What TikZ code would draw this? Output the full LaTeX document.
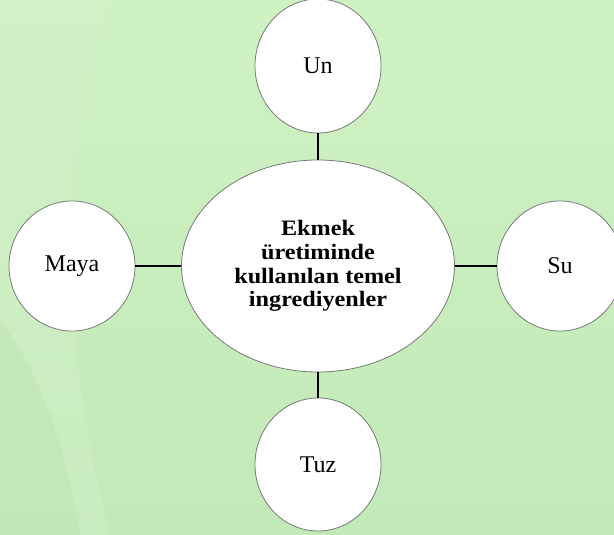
\documentclass[tikz,border=0pt]{standalone}
\usepackage{fontspec}
\setmainfont{Liberation Serif}
\newfontfamily\centerfont[FakeStretch=1.1]{Liberation Serif}
\usetikzlibrary{shapes.geometric}
\definecolor{bgtop}{RGB}{207,242,195}
\definecolor{bgbot}{RGB}{194,233,184}
\definecolor{bgleft}{RGB}{186,226,172}
\definecolor{bglight}{RGB}{214,241,206}
\definecolor{rimgray}{RGB}{120,120,120}
\tikzset{
  bubble/.style={ellipse, draw=rimgray, line width=0.8pt, fill=white, inner sep=0pt},
  small/.style={bubble, minimum width=126pt, minimum height=132pt, font=\fontsize{24}{26}\selectfont},
  big/.style={bubble, minimum width=273pt, minimum height=212pt, align=center,
    font=\centerfont\bfseries\fontsize{22}{23.6}\selectfont},
  link/.style={draw=black, line width=1.8pt}
}
\begin{document}
\begin{tikzpicture}[x=1pt,y=-1pt]
\useasboundingbox (0,0) rectangle (614,535);
\clip (0,0) rectangle (614,535);
% background
\shade[top color=bgtop, bottom color=bgbot] (0,0) rectangle (614,535);
\fill[bglight, opacity=0.35] (0,0) -- (110,0) .. controls (70,150) and (50,300) .. (110,535) -- (0,535) -- cycle;
\fill[bgleft, opacity=0.4] (0,320) .. controls (30,360) and (60,420) .. (80,535) -- (0,535) -- cycle;
% nodes
\node[big] (c) at (318,266) {Ekmek\\üretiminde\\kullanılan temel\\ingrediyenler};
\node[small, minimum height=134pt] (un) at (318,66) {Un};
\node[small, minimum height=130pt] (maya) at (72,266) {Maya};
\node[small, minimum height=130pt] (su) at (560,266) {Su};
\node[small, minimum height=133pt] (tuz) at (318,464.5) {Tuz};
% connectors
\draw[link] (un) -- (c);
\draw[link] (c) -- (tuz);
\draw[link] (maya) -- (c);
\draw[link] (c) -- (su);
\end{tikzpicture}
\end{document}
